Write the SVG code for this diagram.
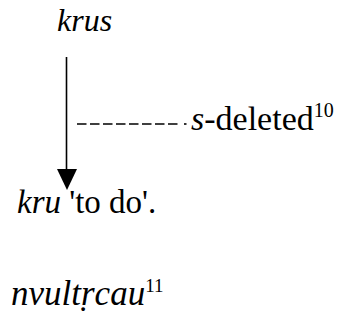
<svg xmlns="http://www.w3.org/2000/svg" width="339" height="320" viewBox="0 0 339 320">
  <style>
    .serif { font-family: 'Liberation Serif', serif; fill: #000; }
    .it { font-style: italic; }
    .conn { stroke: #000; stroke-width: 1.6; fill: none; }
    .dash { stroke: #000; stroke-width: 1.5; stroke-dasharray: 9.5 3.5; fill: none; }
  </style>

  <!-- source form -->
  <g id="node-krus">
    <text class="serif it" x="57" y="31" style="font-family: 'Liberation Serif', serif; font-size: 32px">krus</text>
  </g>

  <!-- rule annotation -->
  <g id="node-sdeleted">
    <text class="serif" x="191" y="130" style="font-family: 'Liberation Serif', serif; font-size: 34px"><tspan class="it">s</tspan>-deleted<tspan dy="-13" style="font-size: 20px">10</tspan></text>
  </g>

  <!-- derived form -->
  <g id="node-kru">
    <text class="serif" x="17" y="213" style="font-family: 'Liberation Serif', serif; font-size: 33px"><tspan class="it">kru</tspan> 'to do'.</text>
  </g>

  <!-- second example -->
  <g id="node-nvultrcau">
    <text class="serif" x="11" y="305" style="font-family: 'Liberation Serif', serif; font-size: 35px"><tspan class="it">nvultṛcau</tspan><tspan dy="-13" style="font-size: 19px">11</tspan></text>
  </g>

  <g id="connectors">
    <line class="conn" x1="66.5" y1="57" x2="66.5" y2="172"/>
    <path d="M57,169 L77,169 L67,190 Z" fill="#000"/>
    <line class="dash" x1="77" y1="124" x2="181" y2="124"/>
    <line class="conn" x1="184" y1="124" x2="186.5" y2="124"/>
  </g>
</svg>
